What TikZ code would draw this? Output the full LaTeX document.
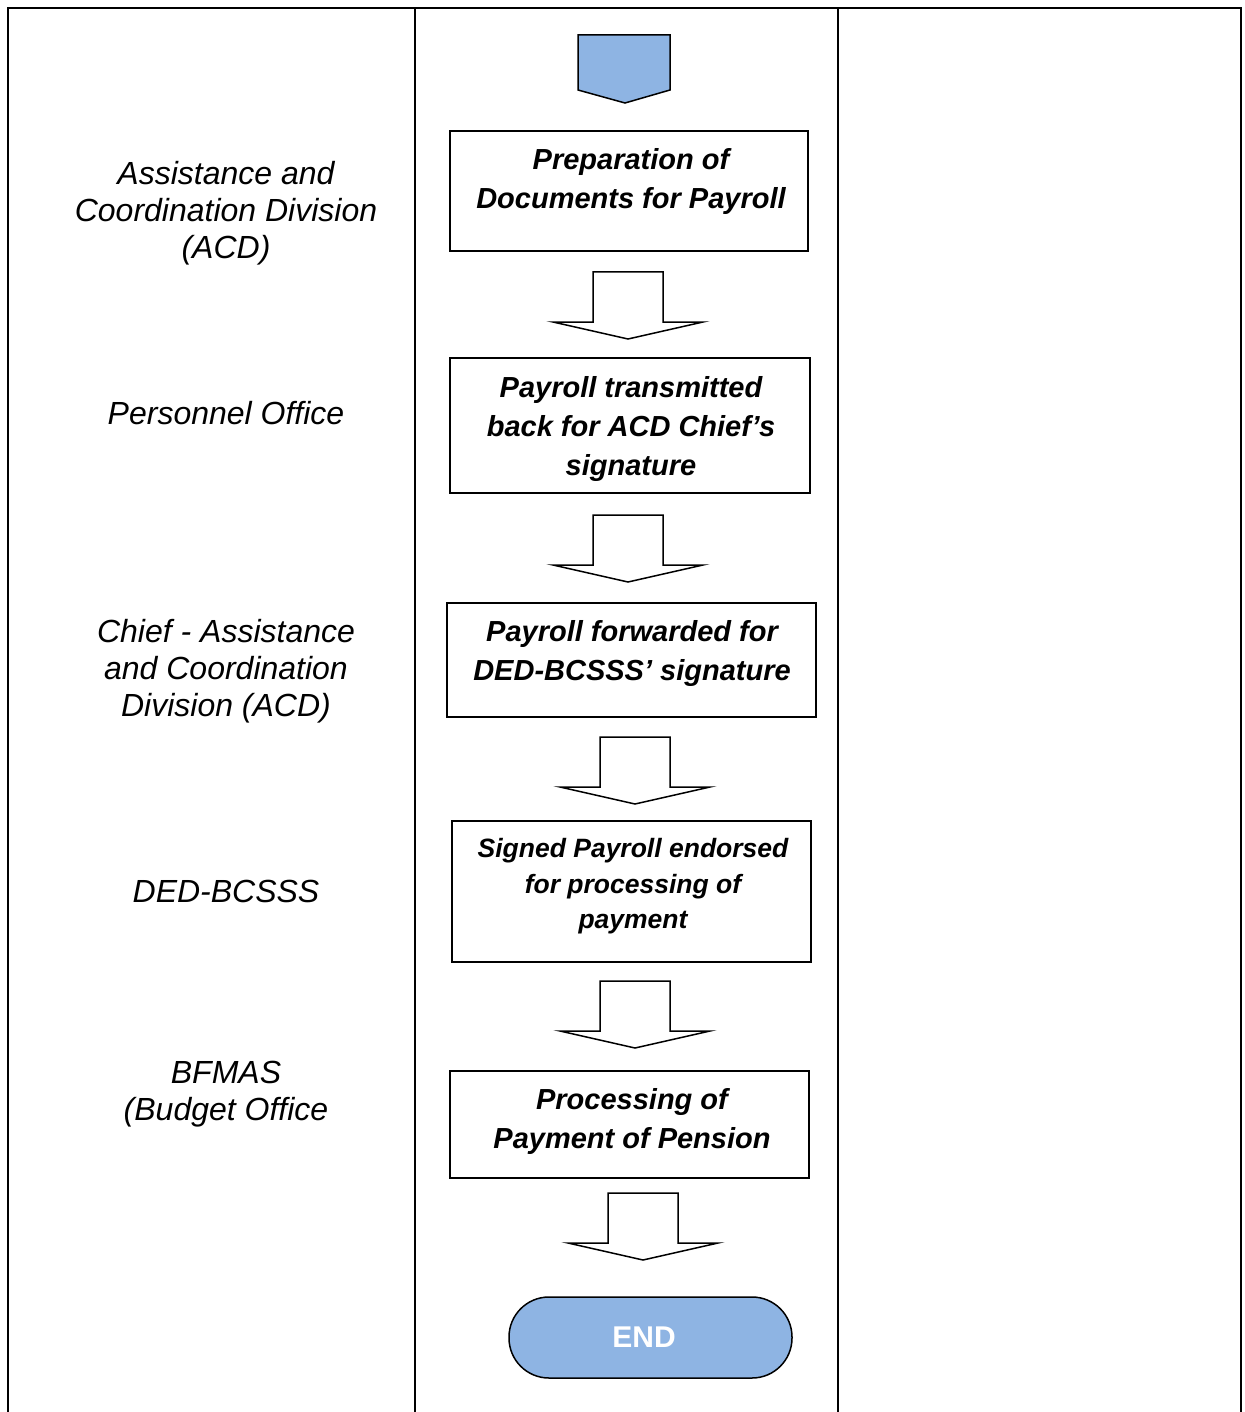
\documentclass[tikz,border=0pt]{standalone}
\usepackage{fontspec}
\setmainfont{Liberation Sans}
\begin{document}
\definecolor{flowblue}{HTML}{8EB4E3}
\tikzset{
  tblline/.style={line width=2pt, line cap=rect},
  stepbox/.style={draw, line width=1.5pt, inner sep=0pt},
  steptext/.style={align=center, font=\fontsize{29}{39}\selectfont\bfseries\itshape},
  lanelabel/.style={align=center, font=\fontsize{32}{37}\selectfont\itshape},
  flowarrow/.style={draw, line width=1.5pt, fill=white, line join=miter},
  endbox/.style={draw, line width=1.5pt, fill=flowblue, rounded corners=40pt,
    minimum width=283pt, minimum height=81pt},
  endtext/.style={font=\fontsize{30}{34}\selectfont\bfseries, text=white},
}
\newcommand{\downarrowshape}[2]{%
  \draw[flowarrow] ({#1-35},{#2}) -- ({#1+35},{#2}) -- ({#1+35},{#2+50})
    -- ({#1+75},{#2+50}) -- ({#1},{#2+67}) -- ({#1-75},{#2+50})
    -- ({#1-35},{#2+50}) -- cycle;}
\begin{tikzpicture}[x=1pt, y=-1pt]
  \useasboundingbox (0,0) rectangle (1244,1412);

  % table frame
  \draw[tblline] (8,1412) -- (8,8) -- (1241,8) -- (1241,1412);
  \draw[tblline] (415,8) -- (415,1412);
  \draw[tblline] (838,8) -- (838,1412);

  % office names
  \node[lanelabel] (l1) at (226,213.5) {Assistance and\\Coordination Division\\(ACD)};
  \node[lanelabel] (l2) at (226,413) {Personnel Office};
  \node[lanelabel] (l3) at (226,671) {Chief - Assistance\\and Coordination\\Division (ACD)};
  \node[lanelabel] (l4) at (226,891) {DED-BCSSS};
  \node[lanelabel] (l5) at (226,1094.5) {BFMAS\\(Budget Office};

  % off-page connector at the start
  \draw[line width=1.5pt, fill=flowblue, line join=miter]
    (578,35) -- (670,35) -- (670,90) -- (625,103) -- (578,90) -- cycle;

  % process boxes
  \node[stepbox, minimum width=358pt, minimum height=120pt] (b1) at (629,191) {};
  \node[steptext] (t1) at (631,181.5) {Preparation of\\Documents for Payroll};

  \node[stepbox, minimum width=360pt, minimum height=135pt] (b2) at (630,425.5) {};
  \node[steptext] (t2) at (631,429) {Payroll transmitted\\back for ACD Chief’s\\signature};

  \node[stepbox, minimum width=369pt, minimum height=114pt] (b3) at (631.5,660) {};
  \node[steptext] (t3) at (632,653.5) {Payroll forwarded for\\DED-BCSSS’ signature};

  \node[stepbox, minimum width=359pt, minimum height=141pt] (b4) at (631.5,891.5) {};
  \node[steptext, font=\fontsize{26.5}{35.5}\selectfont\bfseries\itshape] (t4) at (633,886.5)
    {Signed Payroll endorsed\\for processing of\\payment};

  \node[stepbox, minimum width=359pt, minimum height=107pt] (b5) at (629.5,1124.5) {};
  \node[steptext] (t5) at (632,1121.5) {Processing of\\Payment of Pension};

  % block arrows between the steps
  \downarrowshape{628}{272}
  \downarrowshape{628}{515}
  \downarrowshape{635}{737}
  \downarrowshape{635}{981}
  \downarrowshape{643}{1193}

  % terminator
  \node[endbox] (fin) at (650.5,1337.5) {};
  \node[endtext] (fintext) at (644,1337.5) {END};
\end{tikzpicture}
\end{document}
